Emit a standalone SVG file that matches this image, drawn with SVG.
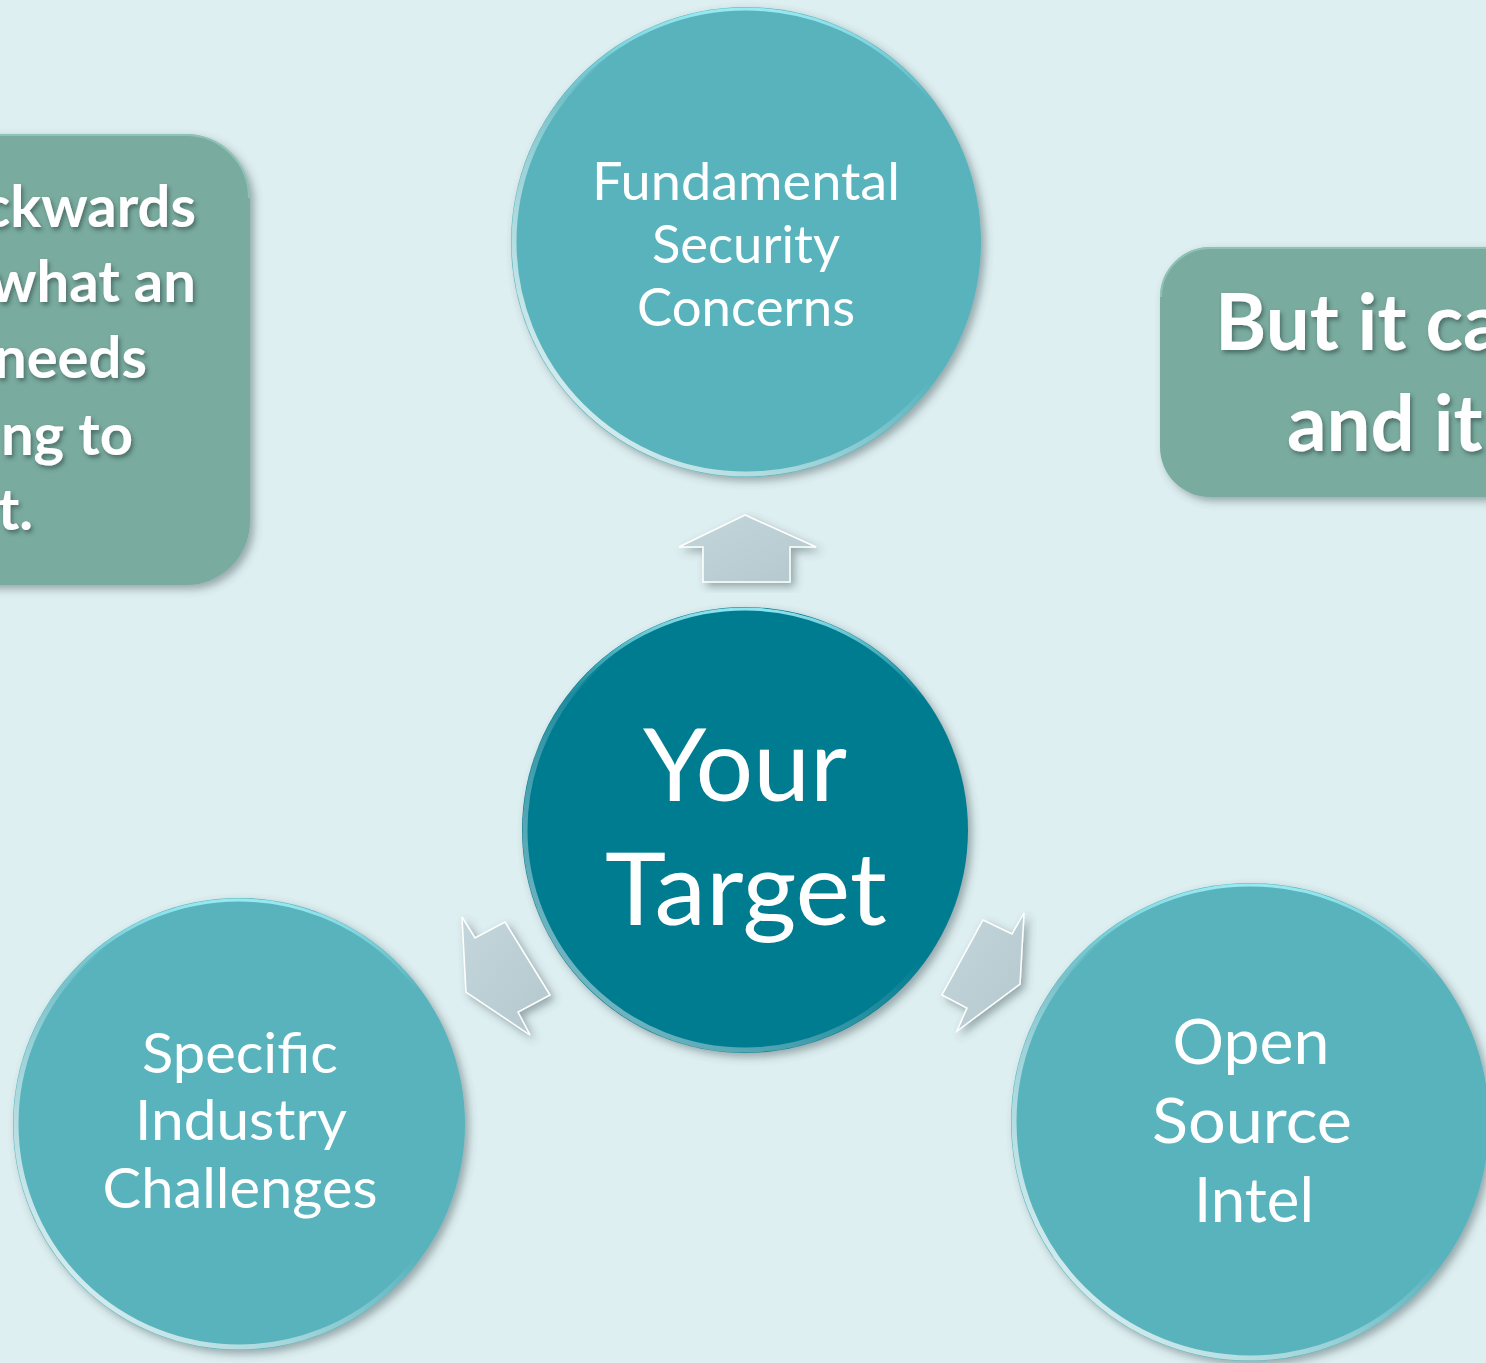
<svg xmlns="http://www.w3.org/2000/svg" width="1486" height="1363" viewBox="0 0 1486 1363">
  <defs>
    <filter id="shadow" x="-10%" y="-10%" width="125%" height="125%">
      <feDropShadow dx="4" dy="4" stdDeviation="4" flood-color="#3d4f55" flood-opacity="0.45"/>
    </filter>
    <filter id="tshadow" x="-10%" y="-20%" width="120%" height="150%">
      <feDropShadow dx="2" dy="3" stdDeviation="2" flood-color="#2e4a44" flood-opacity="0.6"/>
    </filter>
    <linearGradient id="rim" x1="0" y1="1" x2="1" y2="0">
      <stop offset="0" stop-color="#ffffff" stop-opacity="0.95"/>
      <stop offset="0.35" stop-color="#ffffff" stop-opacity="0.4"/>
      <stop offset="0.55" stop-color="#ffffff" stop-opacity="0"/>
      <stop offset="1" stop-color="#ffffff" stop-opacity="0"/>
    </linearGradient>
    <linearGradient id="rimTop" x1="0" y1="0" x2="0" y2="1">
      <stop offset="0" stop-color="#9ff0f8" stop-opacity="0.9"/>
      <stop offset="0.2" stop-color="#9ff0f8" stop-opacity="0"/>
      <stop offset="1" stop-color="#9ff0f8" stop-opacity="0"/>
    </linearGradient>
    <linearGradient id="arrowFill" x1="0" y1="0" x2="1" y2="1">
      <stop offset="0" stop-color="#c4d6db"/>
      <stop offset="1" stop-color="#b3c8ce"/>
    </linearGradient>
  </defs>
  <style>
    .bg { fill: #deeff1; }
    .box { fill: #7aab9f; filter: url(#shadow); }
    .boxEdge { fill: none; stroke: #95c8bc; stroke-width: 2; }
    .boxText { font-family: Lato, "Liberation Sans", sans-serif; font-weight: bold; fill: #ffffff; filter: url(#tshadow); }
    .outer { fill: #59b3bd; filter: url(#shadow); }
    .center { fill: #067b90; filter: url(#shadow); }
    .rim { fill: none; stroke: url(#rim); stroke-width: 5; }
    .rimTop { fill: none; stroke: url(#rimTop); stroke-width: 3; }
    .label { font-family: Lato, "Liberation Sans", sans-serif; fill: #ffffff; text-anchor: middle; }
    .arrow { fill: url(#arrowFill); stroke: #ffffff; stroke-width: 1.5; stroke-linejoin: miter; filter: url(#shadow); }
  </style>

  <rect class="bg" x="0" y="0" width="1486" height="1363"/>

  <g id="note-left">
    <rect class="box" x="-80" y="134" width="330" height="451" rx="64" ry="64"/>
    <path class="boxEdge" d="M -80 135 L 186 135 A 63 63 0 0 1 249 198" opacity="0.8"/>
    <text class="boxText" font-size="58" text-anchor="end" x="196" y="227">ckwards</text>
    <text class="boxText" font-size="58" text-anchor="end" x="196" y="302">what an</text>
    <text class="boxText" font-size="58" text-anchor="end" x="147" y="378">needs</text>
    <text class="boxText" font-size="58" text-anchor="end" x="133" y="455">ng to</text>
    <text class="boxText" font-size="58" text-anchor="end" x="33" y="530">t.</text>
  </g>

  <g id="note-right">
    <rect class="box" x="1160" y="247" width="400" height="250" rx="50" ry="50"/>
    <path class="boxEdge" d="M 1161 297 A 49 49 0 0 1 1210 248 L 1560 248" opacity="0.8"/>
    <text class="boxText" font-size="78" x="1215" y="350">But it ca</text>
    <text class="boxText" font-size="78" x="1287" y="451">and it</text>
  </g>

  <g id="connectors">
    <polygon class="arrow" points="745,515 816,547 790,547 790,582 703,582 703,547 679,547"/>
    <polygon class="arrow" points="462,917 475,938 505,922 550,995 518,1012 530,1035 466,992"/>
    <polygon class="arrow" points="983,920 1012,934 1024,913 1020,984 957,1031 967,1008 942,995"/>
  </g>

  <g id="node-fundamental">
    <circle class="outer" cx="746" cy="242" r="235"/>
    <circle class="rim" cx="746" cy="242" r="232"/>
    <circle class="rimTop" cx="746" cy="242" r="233"/>
    <text class="label" font-size="52" x="746" y="200" textLength="308" lengthAdjust="spacingAndGlyphs">Fundamental</text>
    <text class="label" font-size="52" x="746" y="263" textLength="188" lengthAdjust="spacingAndGlyphs">Security</text>
    <text class="label" font-size="52" x="746" y="326" textLength="218" lengthAdjust="spacingAndGlyphs">Concerns</text>
  </g>

  <g id="node-target">
    <circle class="center" cx="745" cy="830" r="223"/>
    <circle class="rim" cx="745" cy="830" r="220" opacity="0.6"/>
    <circle class="rimTop" cx="745" cy="830" r="221"/>
    <text class="label" font-size="100" x="745" y="801" textLength="204" lengthAdjust="spacingAndGlyphs">Your</text>
    <text class="label" font-size="100" x="746" y="925" textLength="282" lengthAdjust="spacingAndGlyphs">Target</text>
  </g>

  <g id="node-industry">
    <circle class="outer" cx="239" cy="1124" r="226"/>
    <circle class="rim" cx="239" cy="1124" r="223"/>
    <circle class="rimTop" cx="239" cy="1124" r="224"/>
    <text class="label" font-size="56" x="240" y="1073" textLength="196" lengthAdjust="spacingAndGlyphs">Specific</text>
    <text class="label" font-size="56" x="241" y="1140" textLength="212" lengthAdjust="spacingAndGlyphs">Industry</text>
    <text class="label" font-size="56" x="240" y="1208" textLength="275" lengthAdjust="spacingAndGlyphs">Challenges</text>
  </g>

  <g id="node-osint">
    <circle class="outer" cx="1250" cy="1122" r="239"/>
    <circle class="rim" cx="1250" cy="1122" r="236"/>
    <circle class="rimTop" cx="1250" cy="1122" r="237"/>
    <text class="label" font-size="61" x="1251" y="1064" textLength="157" lengthAdjust="spacingAndGlyphs">Open</text>
    <text class="label" font-size="61" x="1252" y="1143" textLength="200" lengthAdjust="spacingAndGlyphs">Source</text>
    <text class="label" font-size="61" x="1254" y="1222" textLength="120" lengthAdjust="spacingAndGlyphs">Intel</text>
  </g>
</svg>
